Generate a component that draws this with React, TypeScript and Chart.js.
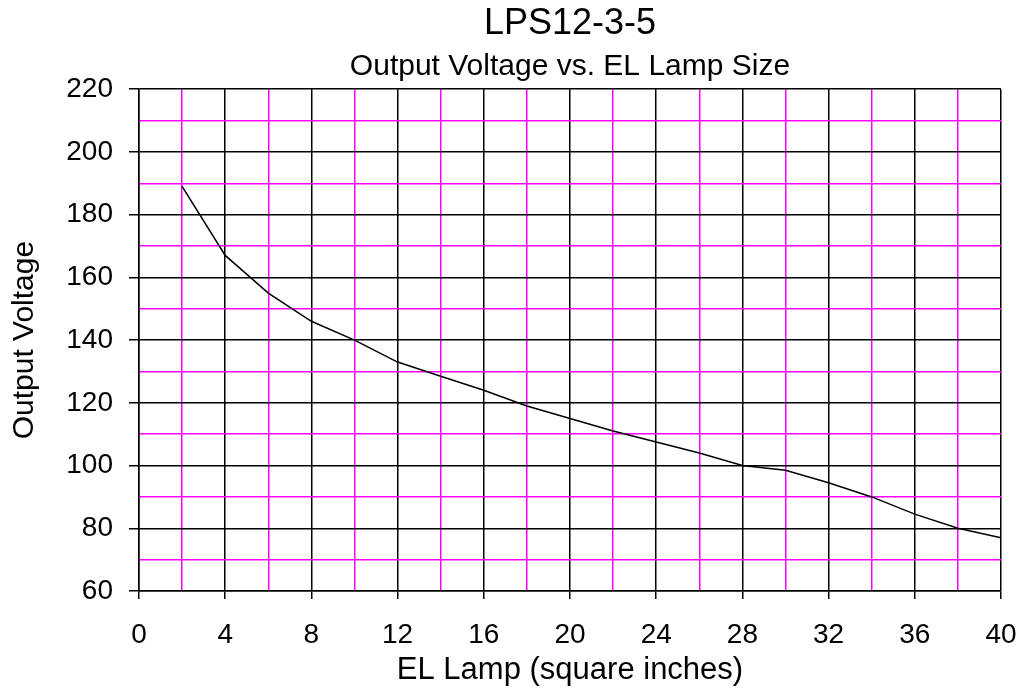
import React, { useEffect, useRef } from "react";
import { Chart, registerables } from "chart.js";

Chart.register(...registerables);

const lampSizes = [2, 4, 6, 8, 10, 12, 14, 16, 18, 20, 22, 24, 26, 28, 30, 32, 34, 36, 38, 40];
const outputVoltage = [189, 167, 155, 146, 140, 133, 128.5, 124, 119, 115, 111, 107.5, 104, 100, 98.5, 94.5, 90, 84.5, 80, 77];

const titleText = "LPS12-3-5";
const subtitleText = "Output Voltage vs. EL Lamp Size";
const xTitle = "EL Lamp (square inches)";
const yTitle = "Output Voltage";

const FONT = "'Liberation Sans', Arial, sans-serif";
const MAGENTA = "#ff00ff";

export default function App() {
  const ref = useRef<HTMLCanvasElement>(null);

  useEffect(() => {
    if (!ref.current) return;
    const chart = new Chart(ref.current, {
      type: "line",
      data: {
        datasets: [
          {
            data: lampSizes.map((x, i) => ({ x, y: outputVoltage[i] })),
            borderColor: "#000000",
            borderWidth: 1.5,
            pointRadius: 0,
            tension: 0,
          },
        ],
      },
      options: {
        animation: false,
        responsive: false,
        layout: { padding: { left: 0, right: 21, top: 0, bottom: 0 } },
        plugins: {
          legend: { display: false },
          tooltip: { enabled: false },
          title: {
            display: true,
            fullSize: false,
            text: titleText,
            color: "#000",
            font: { family: FONT, size: 36, weight: "normal" },
            padding: { top: 2, bottom: 4 },
          },
          subtitle: {
            display: true,
            fullSize: false,
            text: subtitleText,
            color: "#000",
            font: { family: FONT, size: 30, weight: "normal" },
            padding: { top: 0, bottom: 4 },
          },
        },
        scales: {
          x: {
            type: "linear",
            min: 0,
            max: 40,
            ticks: {
              stepSize: 2,
              color: "#000",
              font: { family: FONT, size: 28 },
              padding: 19,
              maxRotation: 0,
              autoSkip: false,
              callback: (v: any) => (Number(v) % 4 === 0 ? String(v) : ""),
            },
            grid: {
              color: (c: any) => (c.tick && c.tick.value % 4 === 0 ? "#000" : MAGENTA),
              tickColor: (c: any) => (c.tick && c.tick.value % 4 === 0 ? "#000" : "rgba(0,0,0,0)"),
              tickLength: 8,
              lineWidth: 1.5,
            },
            border: { color: "#000", width: 1.5 },
            title: {
              display: true,
              text: xTitle,
              color: "#000",
              font: { family: FONT, size: 31 },
              padding: { top: 0, bottom: 0 },
            },
            afterFit: (s: any) => {
              s.height = 98;
              s.paddingLeft = 0;
              s.paddingRight = 0;
            },
          },
          y: {
            type: "linear",
            min: 60,
            max: 220,
            ticks: {
              stepSize: 10,
              color: "#000",
              font: { family: FONT, size: 28 },
              padding: 16,
              autoSkip: false,
              callback: (v: any) => (Number(v) % 20 === 0 ? String(v) : ""),
            },
            grid: {
              color: (c: any) => (c.tick && c.tick.value % 20 === 0 ? "#000" : MAGENTA),
              tickColor: (c: any) => (c.tick && c.tick.value % 20 === 0 ? "#000" : "rgba(0,0,0,0)"),
              tickLength: 10,
              lineWidth: 1.5,
            },
            border: { color: "#000", width: 1.5 },
            title: {
              display: true,
              text: yTitle,
              color: "#000",
              font: { family: FONT, size: 30 },
              padding: { top: 7, bottom: 0 },
            },
            afterFit: (s: any) => {
              s.width = 139;
              s.paddingTop = 0;
              s.paddingBottom = 0;
            },
          },
        },
      },
    });
    return () => chart.destroy();
  }, []);

  return (
    <div style={{ position: "fixed", left: 0, top: 0, width: 1022, height: 689, background: "#fff" }}>
      <canvas ref={ref} width={1022} height={689} style={{ display: "block" }} />
    </div>
  );
}
